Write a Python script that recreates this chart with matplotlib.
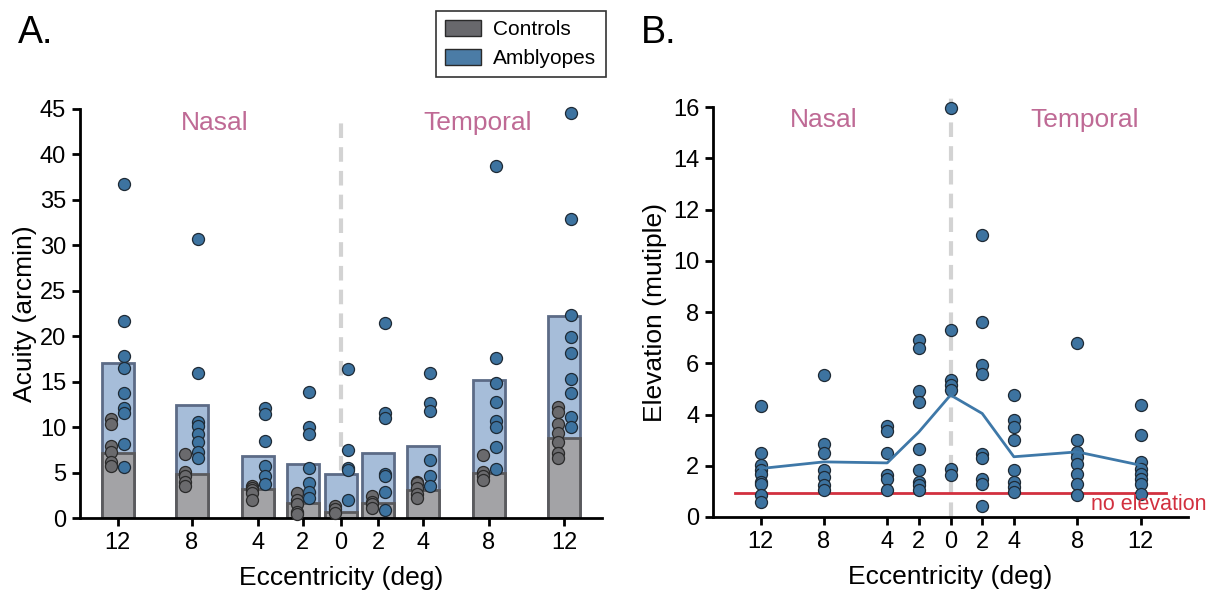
import numpy as np
import matplotlib
matplotlib.use("Agg")
import matplotlib.pyplot as plt
from matplotlib.patches import Patch

plt.rcParams['font.family'] = ['Liberation Sans', 'DejaVu Sans']

# eccentricity labels (nasal 12 -> 0 -> temporal 12)
ecc_labels = ['12', '8', '4', '2', '0', '2', '4', '8', '12']
pos_a = [-6.03, -4.03, -2.24, -1.03, 0, 1.0, 2.22, 4.0, 6.03]
pos_b = [-6, -4, -2, -1, 0, 1, 2, 4, 6]

# panel A: mean acuity bars
amb_mean = [17.0, 12.4, 6.8, 5.9, 4.8, 7.15, 7.9, 15.2, 22.2]
ctl_mean = [7.15, 4.8, 3.2, 1.6, 0.7, 1.7, 3.1, 5.0, 8.8]

# panel A: individual acuities
amb_acuity = [
    [36.7, 21.7, 17.8, 16.5, 13.8, 12.1, 11.6, 8.1, 5.65],
    [30.7, 15.9, 10.6, 10.1, 9.2, 8.4, 7.3, 6.6],
    [12.1, 11.4, 8.5, 5.75, 4.6, 3.7],
    [13.9, 10.0, 9.2, 5.5, 3.85, 2.9, 2.2],
    [16.4, 7.5, 5.5, 5.3, 2.0],
    [21.4, 11.6, 11.0, 4.8, 4.6, 2.9, 0.9],
    [15.9, 12.6, 11.8, 6.4, 4.65, 3.5],
    [38.7, 17.6, 14.8, 12.8, 10.7, 10.0, 7.8, 5.4],
    [44.6, 32.9, 22.3, 19.9, 18.1, 15.3, 13.8, 11.1, 10.0],
]
ctl_acuity = [
    [10.9, 10.3, 7.9, 7.3, 6.2, 5.75],
    [7.0, 5.1, 4.6, 4.0, 3.5],
    [3.55, 3.3, 3.1, 2.75, 2.0],
    [2.75, 2.0, 1.5, 0.7, 0.4],
    [1.3, 1.0, 0.6],
    [2.4, 1.8, 1.5, 1.1],
    [4.0, 3.9, 3.3, 2.6, 2.2],
    [6.9, 5.1, 4.6, 4.2],
    [12.2, 11.7, 10.3, 9.4, 8.4, 7.1, 6.6],
]

# panel B: elevation (multiple of control)
elevation = [
    [4.33, 2.5, 2.02, 1.82, 1.69, 1.37, 1.3, 0.85, 0.59],
    [5.54, 2.84, 2.5, 1.82, 1.56, 1.24, 1.07],
    [3.54, 3.36, 2.5, 1.63, 1.5, 1.04],
    [6.9, 6.58, 4.91, 4.5, 2.67, 1.82, 1.37, 1.24, 1.04],
    [15.96, 7.3, 5.34, 5.15, 4.95, 1.86, 1.63],
    [11.0, 7.62, 5.93, 5.6, 2.45, 2.3, 1.5, 1.3, 0.42],
    [4.76, 3.78, 3.52, 3.02, 1.82, 1.37, 1.17, 0.98],
    [6.78, 3.0, 2.54, 2.35, 2.08, 1.69, 1.3, 0.85],
    [4.36, 3.19, 2.15, 1.89, 1.69, 1.5, 1.3, 0.91],
]
elev_mean = [1.89, 2.15, 2.11, 3.32, 4.76, 4.04, 2.35, 2.54, 2.02]
no_elev = 0.93

blue_dot = '#3d73a0'
gray_dot = '#6a6a6d'
pink = '#bf6a95'
red = '#d2303f'

fig = plt.figure(figsize=(12.21, 5.99), dpi=100)
ax1 = fig.add_axes([0.0655, 0.1352, 0.4275, 0.683])
ax2 = fig.add_axes([0.584, 0.137, 0.389, 0.684])

# ---- panel A
ax1.axvline(0, ymin=0, ymax=43.6 / 45, color='#d3d3d3', lw=3, ls=(0, (3.5, 2.2)), zorder=0)
ax1.bar(pos_a, amb_mean, width=0.87, color='#a6bdd9', edgecolor='#5c6b86', linewidth=2, zorder=1)
ax1.bar(pos_a, ctl_mean, width=0.87, color='#a3a3a6', edgecolor='#5a5a5d', linewidth=2, zorder=2)
for p, vals in zip(pos_a, ctl_acuity):
    ax1.scatter(np.full(len(vals), p - 0.17), vals, s=75, color=gray_dot,
                edgecolor='#2a2a2a', linewidth=0.9, zorder=3, clip_on=False)
for p, vals in zip(pos_a, amb_acuity):
    ax1.scatter(np.full(len(vals), p + 0.18), vals, s=75, color=blue_dot,
                edgecolor='#1e2a35', linewidth=0.9, zorder=4, clip_on=False)
ax1.set_xlim(-7.05, 7.05)
ax1.set_ylim(0, 45)
ax1.set_yticks(range(0, 46, 5))
ax1.set_xticks(pos_a)
ax1.set_xticklabels(ecc_labels)
ax1.set_ylabel('Acuity (arcmin)', fontsize=19, labelpad=2)
ax1.set_xlabel('Eccentricity (deg)', fontsize=19, labelpad=9)
ax1.text(-3.4, 43.5, 'Nasal', color=pink, fontsize=19, ha='center', va='center')
ax1.text(3.7, 43.5, 'Temporal', color=pink, fontsize=19, ha='center', va='center')

# ---- panel B
ax2.axvline(0, ymin=0, ymax=16.4 / 16, color='#d3d3d3', lw=3, ls=(0, (3.5, 2.2)), zorder=0,
            clip_on=False)
ax2.plot([-6.8, 6.8], [no_elev, no_elev], color=red, lw=2, zorder=1)
for p, vals in zip(pos_b, elevation):
    ax2.scatter(np.full(len(vals), p), vals, s=75, color=blue_dot,
                edgecolor='#1e2a35', linewidth=0.9, zorder=3, clip_on=False)
ax2.plot(pos_b, elev_mean, color='#3e78a8', lw=2, zorder=4)
ax2.text(4.45, 0.47, 'no elevation', color=red, fontsize=15.5, ha='left', va='center')
ax2.set_xlim(-7.5, 7.5)
ax2.set_ylim(0, 16)
ax2.set_yticks(range(0, 17, 2))
ax2.set_xticks(pos_b)
ax2.set_xticklabels(ecc_labels)
ax2.set_ylabel('Elevation (mutiple)', fontsize=19, labelpad=4)
ax2.set_xlabel('Eccentricity (deg)', fontsize=19, labelpad=9)
ax2.text(-4.0, 15.5, 'Nasal', color=pink, fontsize=19, ha='center', va='center')
ax2.text(4.25, 15.5, 'Temporal', color=pink, fontsize=19, ha='center', va='center')

for ax in (ax1, ax2):
    for s in ('top', 'right'):
        ax.spines[s].set_visible(False)
    for s in ('left', 'bottom'):
        ax.spines[s].set_linewidth(2)
    ax.tick_params(width=2, length=6, labelsize=17, pad=4)

fig.text(0.015, 0.928, 'A.', fontsize=27, ha='left', va='baseline')
fig.text(0.525, 0.928, 'B.', fontsize=27, ha='left', va='baseline')

handles = [Patch(facecolor='#68686c', edgecolor='#2a2a2a', label='Controls'),
           Patch(facecolor='#4b7ca6', edgecolor='#2a2a2a', label='Amblyopes')]
leg = fig.legend(handles=handles, loc='center', bbox_to_anchor=(0.4267, 0.9265), fontsize=15,
                 frameon=True, fancybox=False, edgecolor='black', handlelength=1.7,
                 handleheight=0.8, handletextpad=0.6, borderpad=0.45, labelspacing=0.45,
                 borderaxespad=0)
leg.get_frame().set_linewidth(1.2)

fig.savefig('out.png', dpi=100)
